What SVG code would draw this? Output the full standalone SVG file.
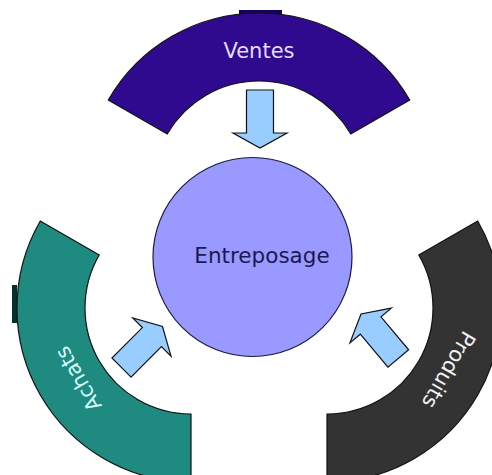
<svg xmlns="http://www.w3.org/2000/svg" width="492" height="475" viewBox="0 0 492 475">
<defs>
<style>
.band{stroke:#111;stroke-width:1.2}
.arrow{fill:#99ccff;stroke:#111;stroke-width:1.2;stroke-linejoin:miter}
.lbl{font-family:"DejaVu Sans",Verdana,sans-serif;font-size:21px;text-anchor:middle}
</style>
<path id="arr" d="M-13.5,-58 L13.5,-58 L13.5,-15 L27,-15 L0,0 L-27,-15 L-13.5,-15 Z"/>
</defs>
<rect width="492" height="475" fill="#ffffff"/>
<g id="ventes">
<rect x="239" y="10" width="43" height="6" fill="#14005e"/>
<path class="band" fill="#2f0a8e" d="M108.3,100 A174,174 0 0 1 409.7,100 L350.8,134 A106,106 0 0 0 167.2,134 Z"/>
<text class="lbl" x="259" y="58" fill="#e4dcff">Ventes</text>
</g>
<g id="achats">
<rect x="12" y="285" width="5" height="38" fill="#06302b"/>
<path class="band" fill="#1e8a80" d="M191,482 A174,174 0 0 1 40.3,221 L99.2,255 A106,106 0 0 0 191,414 Z"/>
<text class="lbl" fill="#d8ffff" transform="translate(78,379) rotate(240)" x="0" y="7.5">Achats</text>
</g>
<g id="produits">
<path class="band" fill="#333333" d="M477.7,221 A174,174 0 0 1 327,482 L327,414 A106,106 0 0 0 418.8,255 Z"/>
<text class="lbl" fill="#f2f2f2" transform="translate(449,370) rotate(120)" x="0" y="7.5">Produits</text>
</g>
<g id="entreposage">
<circle cx="252.5" cy="257" r="99.5" fill="#9999ff" stroke="#1a1a40" stroke-width="1.2"/>
<text class="lbl" x="262" y="263" fill="#1a1a50" style="font-size:21.5px">Entreposage</text>
</g>
<g id="connectors">
<use href="#arr" class="arrow" transform="translate(260,148)"/>
<use href="#arr" class="arrow" transform="translate(162.5,326.5) rotate(225)"/>
<use href="#arr" class="arrow" transform="translate(361,314) rotate(140)"/>
</g>
</svg>
